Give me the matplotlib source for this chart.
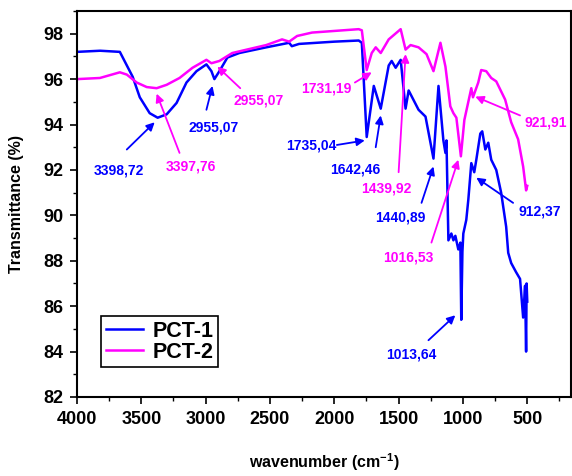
import matplotlib
matplotlib.use("Agg")
import matplotlib.pyplot as plt
from matplotlib.ticker import MultipleLocator

FONT = ['Liberation Sans', 'DejaVu Sans']
plt.rcParams['font.family'] = FONT
plt.rcParams['font.weight'] = 'bold'
plt.rcParams['mathtext.fontset'] = 'custom'
plt.rcParams['mathtext.bf'] = 'Liberation Sans:bold'
plt.rcParams['mathtext.rm'] = 'Liberation Sans:bold'
plt.rcParams['mathtext.default'] = 'bf'

# PCT-1 (blue)
wn1 = [4000, 3820, 3667, 3567, 3512, 3435, 3373, 3303, 3226, 3149, 3071, 2994, 2955, 2932,
       2893, 2831, 2738, 2529, 2351, 2330, 2274, 2000, 1810, 1786, 1748, 1693, 1639, 1577,
       1554, 1523, 1484, 1446, 1422, 1345, 1291, 1229, 1190, 1152, 1136, 1128, 1113, 1090,
       1074, 1059, 1036, 1020, 1013, 1004, 997, 974, 958, 935, 912, 896, 865, 850, 826, 803,
       780, 741, 703, 664, 648, 625, 587, 556, 532, 517, 509, 505, 500]
t1 = [97.2, 97.25, 97.2, 96.1, 95.2, 94.5, 94.3, 94.45, 94.95, 95.85, 96.35, 96.65, 96.35, 96.0,
      96.35, 96.95, 97.15, 97.4, 97.6, 97.45, 97.55, 97.65, 97.7, 97.6, 93.45, 95.7, 94.7, 96.6,
      96.8, 96.5, 96.85, 94.7, 95.5, 94.65, 94.35, 92.5, 95.7, 93.3, 92.75, 93.3, 88.9, 89.2,
      88.9, 89.1, 88.5, 88.8, 85.4, 88.4, 89.2, 89.8, 90.7, 92.3, 91.9, 92.45, 93.6, 93.7, 92.9, 93.2,
      92.45, 92.0, 91.0, 89.5, 88.35, 87.9, 87.5, 87.2, 85.5, 86.9, 84.0, 87.0, 86.2]

# PCT-2 (magenta)
wn2 = [4000, 3822, 3667, 3613, 3536, 3458, 3381, 3303, 3203, 3102, 2994, 2955, 2893, 2793,
       2529, 2406, 2351, 2289, 2173, 1810, 1786, 1748, 1709, 1678, 1639, 1577, 1484, 1446,
       1407, 1345, 1283, 1229, 1175, 1136, 1098, 1074, 1051, 1016, 989, 935, 922, 881, 858,
       819, 780, 741, 672, 625, 571, 532, 509, 500]
t2 = [96.0, 96.05, 96.3, 96.2, 95.85, 95.65, 95.6, 95.75, 96.05, 96.5, 96.85, 96.7, 96.8, 97.15,
      97.5, 97.75, 97.65, 97.9, 98.05, 98.2, 98.15, 96.4, 97.15, 97.4, 97.15, 97.75, 98.2, 97.3,
      97.5, 97.4, 97.1, 96.35, 97.6, 96.55, 94.8, 94.5, 94.3, 92.6, 94.2, 95.6, 95.2, 95.85, 96.4,
      96.35, 96.05, 95.9, 95.1, 94.1, 93.35, 92.15, 91.1, 91.3]

series_labels = ['PCT-1', 'PCT-2']
xticks = [4000, 3500, 3000, 2500, 2000, 1500, 1000, 500]
yticks = [82, 84, 86, 88, 90, 92, 94, 96, 98]

# annotations: (text, text x, text y, arrow start x, y, arrow end x, y, series index)
annotations = [
    ('3398,72', 3675, 91.97, 3613, 92.9, 3396, 94.1, 0),
    ('3397,76', 3118, 92.14, 3203, 92.75, 3381, 95.36, 1),
    ('2955,07', 2940, 93.86, 2994, 94.65, 2947, 95.7, 0),
    ('2955,07', 2591, 95.05, 2731, 95.6, 2909, 96.55, 1),
    ('1731,19', 2065, 95.58, 1840, 95.85, 1709, 96.3, 1),
    ('1735,04', 2181, 93.07, 1980, 93.1, 1763, 93.3, 0),
    ('1642,46', 1840, 92.0, 1678, 93.0, 1639, 94.4, 0),
    ('1439,92', 1593, 91.2, 1500, 91.9, 1446, 97.1, 1),
    ('1440,89', 1484, 89.9, 1322, 90.55, 1229, 92.15, 0),
    ('1016,53', 1422, 88.15, 1245, 88.8, 1036, 92.45, 1),
    ('1013,64', 1399, 83.87, 1268, 84.5, 1059, 85.6, 0),
    ('921,91', 354, 94.08, 556, 94.4, 904, 95.23, 1),
    ('912,37', 400, 90.16, 610, 90.55, 896, 91.66, 0),
]

colors = ['#0000FF', '#FF00FF']

fig = plt.figure(figsize=(5.72, 4.76), dpi=100)
ax = fig.add_axes([77/572, 1-397/476, 494/572, 386/476])

ax.plot(wn1, t1, color=colors[0], lw=1.8, label=series_labels[0])
ax.plot(wn2, t2, color=colors[1], lw=1.8, label=series_labels[1])

ax.set_xlim(4000, 160)
ax.set_ylim(82, 99)
ax.set_xticks(xticks)
ax.set_yticks(yticks)
ax.xaxis.set_minor_locator(MultipleLocator(250))
ax.yaxis.set_minor_locator(MultipleLocator(1))
ax.tick_params(which='major', direction='out', length=5, width=1.2, labelsize=13,
               top=False, right=False, pad=5)
ax.tick_params(which='minor', direction='out', length=3, width=1.0, top=False, right=False)
for lab in ax.get_xticklabels() + ax.get_yticklabels():
    lab.set_fontweight('bold')
for s in ax.spines.values():
    s.set_linewidth(1.5)

ax.set_xlabel(r'wavenumber (cm$^{-1}$)', fontsize=11.5, fontweight='bold', labelpad=17)
ax.set_ylabel('Transmittance (%)', fontsize=11.5, fontweight='bold', labelpad=14)

for txt, tx, ty, ax0, ay0, ax1, ay1, si in annotations:
    c = colors[si]
    ax.text(tx, ty, txt, color=c, fontsize=10, fontweight='bold', ha='center', va='center')
    ax.annotate('', xy=(ax1, ay1), xytext=(ax0, ay0),
                arrowprops=dict(arrowstyle='-|>', color=c, lw=1.3, mutation_scale=12,
                                shrinkA=0, shrinkB=0))

leg = ax.legend(loc='lower left', bbox_to_anchor=(0.049, 0.078), borderaxespad=0,
                fancybox=False, edgecolor='black', framealpha=1,
                prop={'family': FONT, 'weight': 'bold', 'size': 15.5},
                handlelength=1.75, handletextpad=0.45, borderpad=0.2, labelspacing=0.0)
leg.get_frame().set_linewidth(1.2)

fig.savefig('out.png', dpi=100)
